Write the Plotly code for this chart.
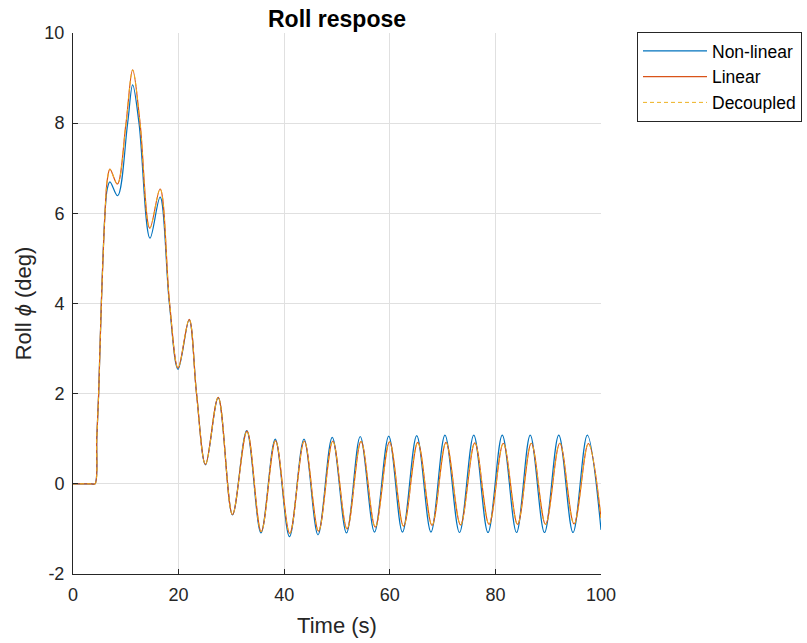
import plotly.graph_objects as go

# Roll response of the three aircraft models (time in s, roll angle in deg)
t_nonlinear = [0, 3.5, 4.17, 4.5, 4.86, 5.37, 6.06, 6.5, 7.0, 8.45, 10.35, 11.3, 12.5,
               14.58, 16.5, 18.25, 19.9, 22.0, 23.4, 25.1, 27.5, 30.2, 32.9, 35.6,
               38.3, 41.0, 43.75, 46.4, 49.1, 51.8, 54.4, 57.1, 59.8, 62.4, 65.1,
               67.8, 70.45, 73.2, 75.9, 78.6, 81.3, 84.0, 86.6, 89.3, 92.0, 94.7,
               97.4, 100]
roll_nonlinear = [0, 0, 0, 1.0, 2.0, 4.0, 6.0, 6.55, 6.70, 6.39, 8.0, 8.85, 8.0,
                  5.45, 6.36, 4.0, 2.54, 3.64, 2.0, 0.42, 1.91, -0.69, 1.18, -1.09,
                  0.99, -1.17, 0.99, -1.13, 1.03, -1.09, 1.05, -1.07, 1.06, -1.07,
                  1.07, -1.07, 1.08, -1.08, 1.08, -1.08, 1.08, -1.08, 1.08, -1.08,
                  1.08, -1.08, 1.08, -1.02]

t_linear = [0, 3.5, 4.17, 4.5, 4.86, 5.37, 6.06, 6.5, 7.0, 8.4, 10.04, 11.3, 12.7,
            14.55, 16.5, 18.3, 19.9, 22.0, 23.4, 25.1, 27.5, 30.2, 32.95, 35.65,
            38.35, 41.05, 43.8, 46.5, 49.2, 51.9, 54.55, 57.25, 59.95, 62.6, 65.3,
            68.0, 70.65, 73.4, 76.1, 78.8, 81.5, 84.2, 86.8, 89.5, 92.2, 94.9,
            97.6, 100]
roll_linear = [0, 0, 0, 1.0, 2.0, 4.0, 6.0, 6.75, 6.98, 6.65, 8.0, 9.18, 8.0,
               5.67, 6.54, 4.0, 2.57, 3.65, 2.0, 0.43, 1.92, -0.68, 1.17, -1.06,
               0.96, -1.10, 0.95, -1.05, 0.95, -1.0, 0.94, -0.96, 0.93, -0.94,
               0.92, -0.92, 0.92, -0.91, 0.91, -0.90, 0.90, -0.90, 0.90, -0.90,
               0.90, -0.89, 0.89, -0.76]

t_decoupled = t_linear
roll_decoupled = roll_linear

x_ticks = [0, 20, 40, 60, 80, 100]
y_ticks = [-2, 0, 2, 4, 6, 8, 10]
y_tick_text = ["-2", "0", "2", "4", "6", "8", "10"]

FONT = "Liberation Sans, Arial, Helvetica, sans-serif"
AXIS_COLOR = "#262626"
GRID_COLOR = "#e0e0e0"

fig = go.Figure()
fig.add_trace(go.Scatter(x=t_nonlinear, y=roll_nonlinear, mode="lines", name="Non-linear",
                         line=dict(color="#0072BD", width=1.2, shape="spline", smoothing=1.0)))
fig.add_trace(go.Scatter(x=t_linear, y=roll_linear, mode="lines", name="Linear",
                         line=dict(color="#D95319", width=1.2, shape="spline", smoothing=1.0)))
fig.add_trace(go.Scatter(x=t_decoupled, y=roll_decoupled, mode="lines", name="Decoupled",
                         line=dict(color="#EDB120", width=1.0, dash="4px,3px",
                                   shape="spline", smoothing=1.0)))

fig.update_layout(
    width=807, height=643,
    margin=dict(l=73, r=206, t=33, b=69),
    paper_bgcolor="white", plot_bgcolor="white",
    font=dict(family=FONT, color=AXIS_COLOR, size=18),
    title=dict(text="<b>Roll respose</b>", x=0.5, xref="paper", xanchor="center",
               y=1 - 19 / 643, yref="container", yanchor="middle",
               font=dict(size=23, color="black", family=FONT)),
    showlegend=True,
    legend=dict(xref="container", yref="container",
                x=637 / 807, y=1 - 32 / 643, xanchor="left", yanchor="top",
                bordercolor=AXIS_COLOR, borderwidth=1, bgcolor="white",
                font=dict(size=17.5, color="black", family=FONT),
                itemwidth=64, tracegroupgap=0),
)

fig.update_xaxes(range=[0, 100], tickvals=x_ticks, ticks="inside", ticklen=5,
                 tickcolor=AXIS_COLOR, showline=True, linecolor=AXIS_COLOR, linewidth=1,
                 showgrid=True, gridcolor=GRID_COLOR, gridwidth=1, zeroline=False,
                 automargin=False,
                 tickfont=dict(size=18, color=AXIS_COLOR), ticklabelstandoff=4,
                 title=dict(text="Time (s)", font=dict(size=22, color=AXIS_COLOR), standoff=14))
fig.update_yaxes(range=[-2, 10], tickvals=y_ticks, ticktext=y_tick_text, ticks="inside",
                 ticklen=5, tickcolor=AXIS_COLOR, showline=True, linecolor=AXIS_COLOR,
                 linewidth=1, showgrid=True, gridcolor=GRID_COLOR, gridwidth=1,
                 zeroline=False, automargin=False, tickfont=dict(size=18, color=AXIS_COLOR),
                 ticklabelstandoff=4,
                 title=dict(text="Roll <i>ϕ</i> (deg)", font=dict(size=22, color=AXIS_COLOR),
                            standoff=6))

fig.write_html("out.html")
